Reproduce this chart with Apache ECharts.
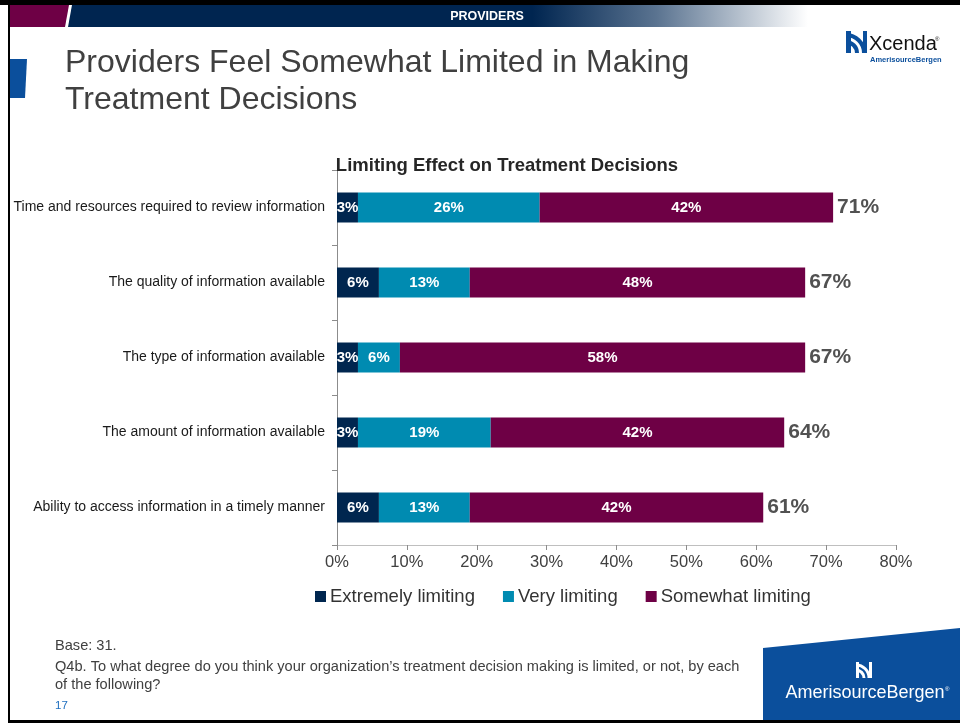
<!DOCTYPE html>
<html>
<head>
<meta charset="utf-8">
<script src="https://cdn.jsdelivr.net/npm/echarts@6/dist/echarts.min.js"></script>
<style>
  html, body { margin: 0; padding: 0; background: #fff; }
  #chart { width: 960px; height: 723px; }
</style>
</head>
<body>
<div id="chart"></div>
<script>
// Survey items, top to bottom
const categories = [
  'Time and resources required to review information',
  'The quality of information available',
  'The type of information available',
  'The amount of information available',
  'Ability to access information in a timely manner'
];
// Share of providers (%) per limiting level
const extremely = [3, 6, 3, 3, 6];
const very      = [26, 13, 6, 19, 13];
const somewhat  = [42, 48, 58, 42, 42];
const seriesNames = ['Extremely limiting', 'Very limiting', 'Somewhat limiting'];
const xTicks = [0, 10, 20, 30, 40, 50, 60, 70, 80];

// Combined share shown at the end of each bar
const totals = categories.map((_, i) => extremely[i] + very[i] + somewhat[i]);

const FONT = '"Liberation Sans", Arial, sans-serif';
const NAVY = '#00264F';
const TEAL = '#008BB1';
const MAROON = '#6E0045';
const BLUE = '#0B4F9C';

const chart = echarts.init(document.getElementById('chart'));

const inLabel = {
  show: true,
  position: 'inside',
  color: '#fff',
  fontWeight: 'bold',
  fontSize: 15,
  fontFamily: FONT,
  formatter: p => p.value + '%'
};

function barSeries(name, data, color) {
  return {
    name: name,
    type: 'bar',
    stack: 'total',
    data: data,
    barWidth: 30,
    itemStyle: { color: color },
    label: inLabel,
    emphasis: { disabled: true }
  };
}

const option = {
  animation: false,
  textStyle: { fontFamily: FONT },
  title: {
    text: 'Limiting Effect on Treatment Decisions',
    left: 502,
    textAlign: 'center',
    top: 151,
    textStyle: { fontSize: 18.5, fontWeight: 'bold', color: '#262626', fontFamily: FONT }
  },
  legend: {
    data: seriesNames,
    left: 310,
    top: 582,
    icon: 'rect',
    itemWidth: 11,
    itemHeight: 11,
    itemGap: 28,
    textStyle: { fontSize: 18.5, color: '#333', fontFamily: FONT, padding: [0, 0, 0, -1] }
  },
  grid: { left: 337, right: 64, top: 170, height: 375, containLabel: false },
  xAxis: {
    type: 'value',
    min: xTicks[0],
    max: xTicks[xTicks.length - 1],
    interval: 10,
    splitLine: { show: false },
    axisLine: { show: true, lineStyle: { color: '#bfbfbf' } },
    axisTick: { show: true, length: 5, lineStyle: { color: '#8c8c8c' } },
    axisLabel: { formatter: v => v + '%', fontSize: 16.5, color: '#404040', margin: 9, fontFamily: FONT }
  },
  yAxis: {
    type: 'category',
    data: categories,
    inverse: true,
    axisLine: { show: true, lineStyle: { color: '#8c8c8c' } },
    axisTick: { show: true, length: 5, lineStyle: { color: '#8c8c8c' } },
    axisLabel: { fontSize: 14, color: '#1a1a1a', margin: 12, fontFamily: FONT }
  },
  series: [
    barSeries(seriesNames[0], extremely, NAVY),
    barSeries(seriesNames[1], very, TEAL),
    barSeries(seriesNames[2], somewhat, MAROON),
    {
      name: 'Total',
      type: 'scatter',
      symbolSize: 0,
      data: totals.map((t, i) => [t, categories[i]]),
      label: {
        show: true,
        position: 'right',
        distance: 4,
        color: '#262626',
        fontWeight: 'bold',
        fontSize: 21,
        fontFamily: FONT,
        formatter: p => p.value[0] + '%'
      },
      emphasis: { disabled: true },
      silent: true
    }
  ],
  graphic: [
    // slide frame
    { type: 'rect', shape: { x: 0, y: 0, width: 960, height: 5 }, style: { fill: '#000' } },
    { type: 'rect', shape: { x: 8, y: 0, width: 2, height: 723 }, style: { fill: '#000' } },
    { type: 'rect', shape: { x: 8, y: 720, width: 952, height: 3 }, style: { fill: '#000' } },
    // header band
    {
      type: 'rect', shape: { x: 10, y: 5, width: 950, height: 22 },
      style: {
        fill: new echarts.graphic.LinearGradient(0, 0, 1, 0, [
          { offset: 0, color: '#002550' },
          { offset: 0.55, color: '#002550' },
          { offset: 0.68, color: '#5a7390' },
          { offset: 0.84, color: '#ffffff' },
          { offset: 1, color: '#ffffff' }
        ])
      }
    },
    { type: 'polygon', shape: { points: [[10, 5], [71, 5], [67, 27], [10, 27]] }, style: { fill: '#6E0045' } },
    { type: 'polygon', shape: { points: [[69, 5], [72, 5], [68, 27], [65, 27]] }, style: { fill: '#ffffff' } },
    { type: 'text', x: 487, y: 10, style: { text: 'PROVIDERS', fill: '#fff', font: 'bold 12.5px ' + FONT, textAlign: 'center' } },
    // left accent tab
    { type: 'polygon', shape: { points: [[10, 59], [27, 59], [25, 98], [10, 98]] }, style: { fill: BLUE } },
    // slide title
    { type: 'text', x: 65, y: 47, style: { text: 'Providers Feel Somewhat Limited in Making', fill: '#404040', font: '32px ' + FONT } },
    { type: 'text', x: 65, y: 84, style: { text: 'Treatment Decisions', fill: '#404040', font: '32px ' + FONT } },
    // Xcenda mark
    {
      type: 'group', x: 846, y: 31,
      children: [
        { type: 'polygon', shape: { points: [[0, 0], [5, 0], [5, 22], [0, 22]] }, style: { fill: BLUE } },
        { type: 'arc', shape: { cx: 0, cy: 22, r: 18, startAngle: -Math.PI / 2, endAngle: 0 }, style: { stroke: BLUE, lineWidth: 4, fill: 'none' } },
        { type: 'arc', shape: { cx: 0, cy: 22, r: 11, startAngle: -Math.PI / 2, endAngle: 0 }, style: { stroke: BLUE, lineWidth: 4, fill: 'none' } },
        { type: 'polygon', shape: { points: [[17, 0], [21, 0], [21, 22], [17, 22]] }, style: { fill: BLUE } }
      ]
    },
    { type: 'text', x: 869, y: 34, style: { text: 'Xcenda', fill: '#111', font: '20px ' + FONT } },
    { type: 'text', x: 935, y: 36, style: { text: '\u00ae', fill: '#111', font: '6px ' + FONT } },
    { type: 'text', x: 870, y: 56, style: { text: 'AmerisourceBergen', fill: BLUE, font: 'bold 7.5px ' + FONT } },
    // footnotes
    { type: 'text', x: 55, y: 638, style: { text: 'Base: 31.', fill: '#404040', font: '14.6px ' + FONT } },
    { type: 'text', x: 55, y: 659, style: { text: 'Q4b. To what degree do you think your organization\u2019s treatment decision making is limited, or not, by each', fill: '#404040', font: '14.6px ' + FONT } },
    { type: 'text', x: 55, y: 677, style: { text: 'of the following?', fill: '#404040', font: '14.6px ' + FONT } },
    { type: 'text', x: 55, y: 700, style: { text: '17', fill: '#1f6fbf', font: '11.5px ' + FONT } },
    // AmerisourceBergen panel
    { type: 'polygon', shape: { points: [[763, 648], [960, 628], [960, 720], [763, 720]] }, style: { fill: BLUE } },
    {
      type: 'group', x: 856, y: 662,
      children: [
        { type: 'polygon', shape: { points: [[0, 0], [3, 0], [3, 16], [0, 16]] }, style: { fill: '#fff' } },
        { type: 'arc', shape: { cx: 0, cy: 16, r: 13, startAngle: -Math.PI / 2, endAngle: 0 }, style: { stroke: '#fff', lineWidth: 3, fill: 'none' } },
        { type: 'arc', shape: { cx: 0, cy: 16, r: 8, startAngle: -Math.PI / 2, endAngle: 0 }, style: { stroke: '#fff', lineWidth: 3, fill: 'none' } },
        { type: 'polygon', shape: { points: [[13, 0], [16, 0], [16, 16], [13, 16]] }, style: { fill: '#fff' } }
      ]
    },
    { type: 'text', x: 865, y: 684, style: { text: 'AmerisourceBergen', fill: '#fff', font: '18px ' + FONT, textAlign: 'center' } },
    { type: 'text', x: 945, y: 686, style: { text: '\u00ae', fill: '#fff', font: '6px ' + FONT } }
  ]
};

chart.setOption(option);
</script>
</body>
</html>
